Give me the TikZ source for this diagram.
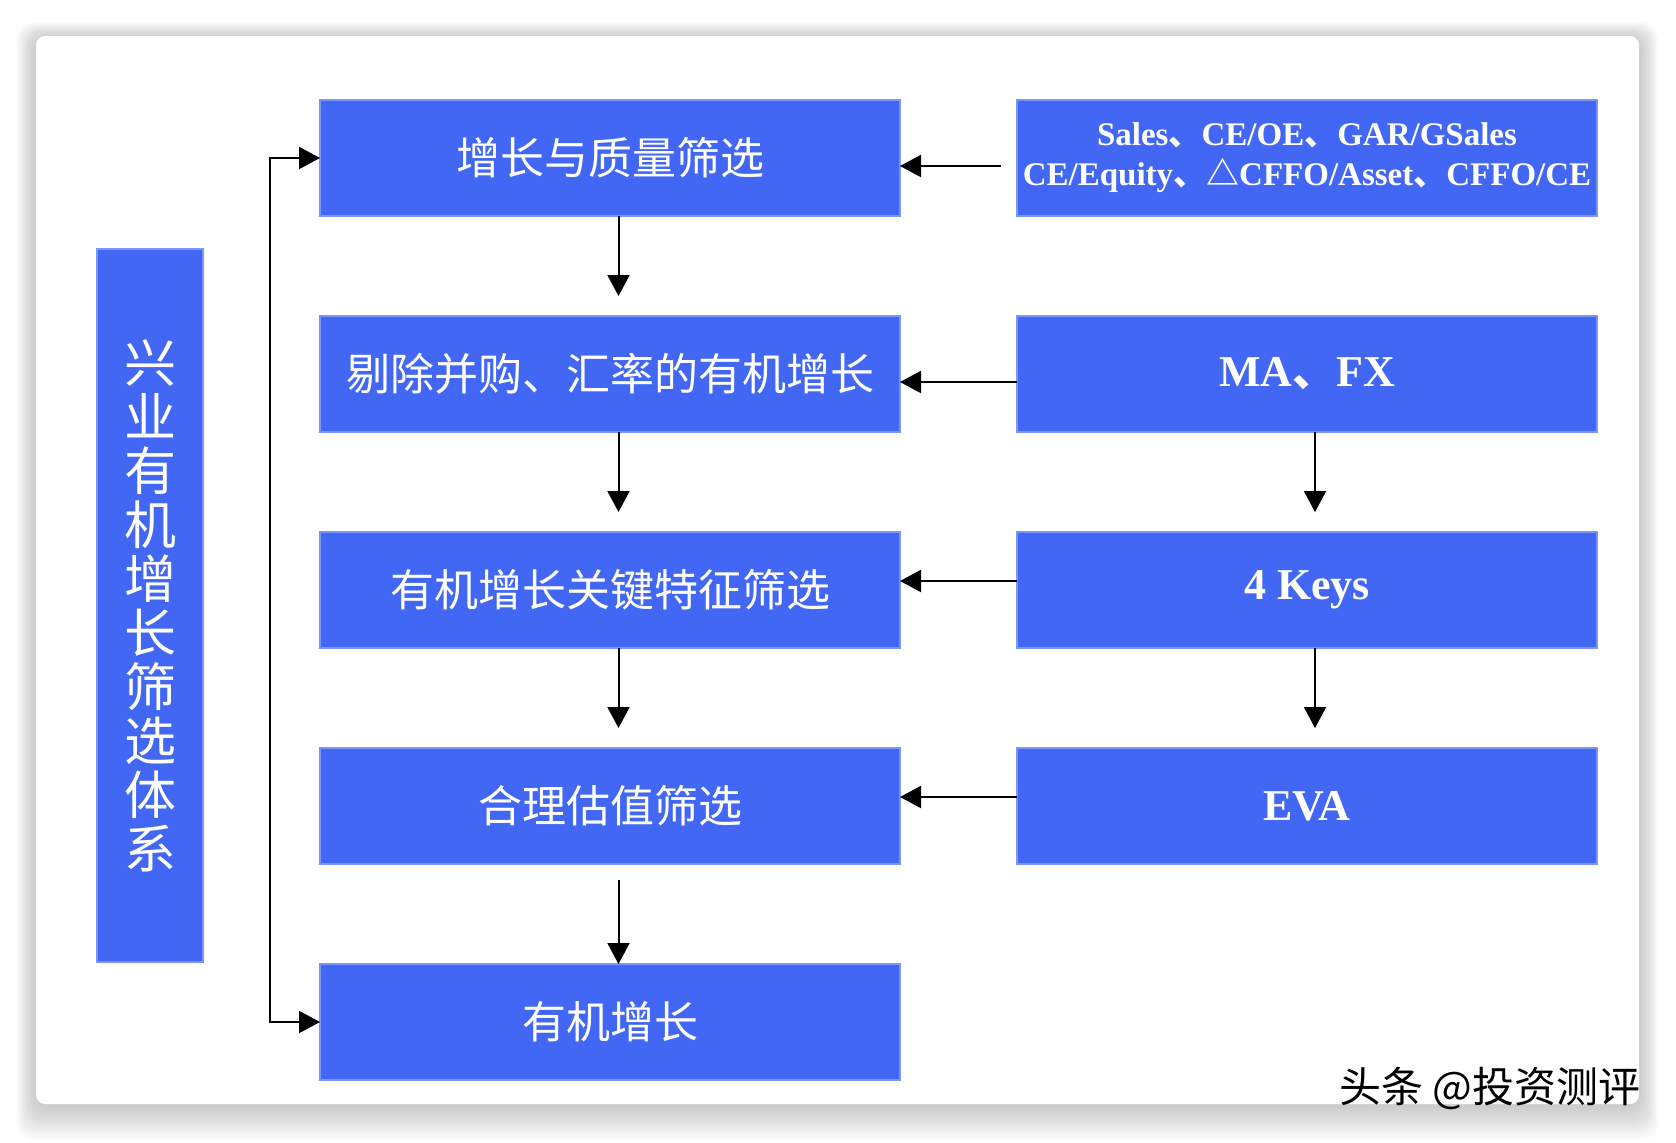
\documentclass[tikz,border=0pt]{standalone}
\usepackage{fontspec}
\setmainfont{Liberation Serif}
\newfontfamily\cjk{Noto Sans CJK SC}
\usetikzlibrary{positioning,arrows.meta}
\definecolor{boxblue}{RGB}{66,103,245}
\newcommand{\dun}{{\cjk 、}}

\begin{document}
\begin{tikzpicture}[x=0.5pt,y=-0.5pt,line width=1pt,
        >={Triangle[length=10.5pt,width=11pt]},
        b/.style={rectangle, fill=boxblue, draw=boxblue!70!white,
                        line width=0.6pt, text=white, inner sep=0pt,
                        outer sep=0pt,
                        minimum width=290pt, minimum height=58pt},
        zh/.style={font=\cjk\fontsize{22pt}{26pt}\selectfont},
        en/.style={font=\bfseries\fontsize{22pt}{26pt}\selectfont}]
    \useasboundingbox (0,0) rectangle (1676,1142);
    % card with a soft shadow
    \foreach \i in {1,...,14}
        \fill[black, opacity=0.016, rounded corners=8pt]
            (36-1.4*\i,38-1.1*\i) rectangle (1639+1.4*\i,1106+2.4*\i);
    \fill[white, rounded corners=4.5pt] (36,36) rectangle (1639,1104);

    \node[b, zh] (m1) at (610,158) {增长与质量筛选};
    \node[b, zh, below=50pt of m1] (m2) {剔除并购、汇率的有机增长};
    \node[b, zh, below=50pt of m2] (m3) {有机增长关键特征筛选};
    \node[b, zh, below=50pt of m3] (m4) {合理估值筛选};
    \node[b, zh, below=50pt of m4] (m5) {有机增长};

    \node[b, right=58.5pt of m1, align=center,
          font=\bfseries\fontsize{16.5pt}{20pt}\selectfont] (s1)
          {Sales\dun CE/OE\dun GAR/GSales\\CE/Equity\dun{\cjk △}CFFO/Asset\dun CFFO/CE};
    \node[b, en, right=58.5pt of m2] (s2) {MA\dun FX};
    \node[b, en, right=58.5pt of m3] (s3) {4 Keys};
    \node[b, en, right=58.5pt of m4] (s4) {EVA};

    \node[b, minimum width=53pt, minimum height=356.5pt, align=center,
          font=\cjk\fontsize{26pt}{27pt}\selectfont] (t) at (150,605.5)
          {兴\\业\\有\\机\\增\\长\\筛\\选\\体\\系};

    \node[font=\cjk\fontsize{21pt}{24pt}\selectfont] (wm) at (1490,1088) {头条 @投资测评};

    % inputs from the right
    \draw[->] ([xshift=-8pt,yshift=-4pt]s1.west) -- ([yshift=-4pt]m1.east);
    \draw[->] ([yshift=-4pt]s2.west) -- ([yshift=-4pt]m2.east);
    \draw[->] ([yshift=4.5pt]s3.west) -- ([yshift=4.5pt]m3.east);
    \draw[->] ([yshift=4.5pt]s4.west) -- ([yshift=4.5pt]m4.east);

    % main chain
    \draw[->] ([xshift=4.25pt]m1.south) -- ([xshift=4.25pt,yshift=10pt]m2.north);
    \draw[->] ([xshift=4.25pt]m2.south) -- ([xshift=4.25pt,yshift=10pt]m3.north);
    \draw[->] ([xshift=4.25pt]m3.south) -- ([xshift=4.25pt,yshift=10pt]m4.north);
    \draw[->] ([xshift=4.25pt,yshift=-8pt]m4.south) -- ([xshift=4.25pt]m5.north);
    \draw[->] ([xshift=4pt]s2.south) -- ([xshift=4pt,yshift=10pt]s3.north);
    \draw[->] ([xshift=4pt]s3.south) -- ([xshift=4pt,yshift=10pt]s4.north);

    \draw[<->] (m1.west) -- ++(-25pt,0) |- (m5.west);
\end{tikzpicture}
\end{document}
